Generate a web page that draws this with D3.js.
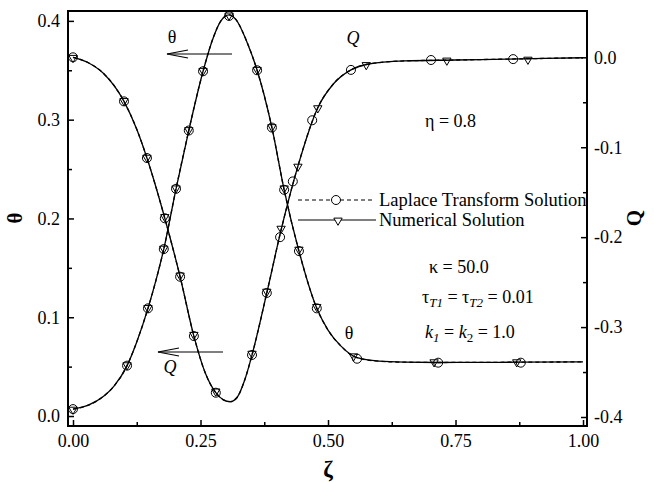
<!DOCTYPE html>
<html>
<meta charset="utf-8">
<script src="https://cdnjs.cloudflare.com/ajax/libs/d3/7.8.5/d3.min.js"></script>
<title>theta and Q</title>
<style>
body { margin: 0; background: #fff; }
text { font-family: "Liberation Serif", "Times New Roman", serif; }
</style>
<body>
<script type="text/javascript">

// curves: [zeta, value]
var thetaLine = [
    [0, 0.007], [0.03, 0.011], [0.06, 0.020], [0.08, 0.030], [0.106, 0.051],
    [0.125, 0.075], [0.147, 0.109], [0.163, 0.138], [0.178, 0.169], [0.202, 0.230],
    [0.227, 0.289], [0.255, 0.349], [0.275, 0.383], [0.29, 0.400], [0.306, 0.406],
    [0.32, 0.401], [0.34, 0.380], [0.361, 0.350], [0.390, 0.292], [0.414, 0.229],
    [0.443, 0.167], [0.478, 0.109], [0.50, 0.087], [0.525, 0.071], [0.557, 0.059],
    [0.60, 0.0555], [0.65, 0.0545], [0.716, 0.0542], [0.8, 0.0543], [0.876, 0.0545],
    [1.0, 0.0548]
];
var qLine = [
    [0, 0.000], [0.03, -0.006], [0.06, -0.018], [0.1, -0.049], [0.125, -0.080],
    [0.145, -0.112], [0.163, -0.145], [0.180, -0.179], [0.210, -0.244], [0.237, -0.310],
    [0.26, -0.352], [0.280, -0.373], [0.295, -0.381], [0.308, -0.383], [0.322, -0.378],
    [0.336, -0.360], [0.351, -0.331], [0.380, -0.262], [0.408, -0.192], [0.441, -0.121],
    [0.480, -0.056], [0.51, -0.030], [0.545, -0.014], [0.575, -0.008], [0.65, -0.004],
    [0.75, -0.003], [0.85, -0.002], [1.0, -0.0005]
];

// markers
var lapTheta = [
    [0, 0.007], [0.106, 0.051], [0.147, 0.109], [0.178, 0.169], [0.202, 0.230],
    [0.227, 0.289], [0.255, 0.349], [0.306, 0.405], [0.361, 0.350], [0.390, 0.292],
    [0.414, 0.229], [0.443, 0.167], [0.478, 0.109], [0.557, 0.058], [0.716, 0.054],
    [0.878, 0.054]
];
var numTheta = [
    [0, 0.007], [0.106, 0.052], [0.147, 0.110], [0.178, 0.170], [0.202, 0.231],
    [0.227, 0.290], [0.255, 0.350], [0.306, 0.406], [0.361, 0.351], [0.390, 0.293],
    [0.414, 0.231], [0.443, 0.169], [0.478, 0.111], [0.550, 0.061], [0.708, 0.055],
    [0.870, 0.055]
];
var lapQ = [
    [0, 0.000], [0.1, -0.049], [0.145, -0.112], [0.180, -0.179], [0.210, -0.244],
    [0.237, -0.310], [0.280, -0.373], [0.351, -0.331], [0.380, -0.262], [0.406, -0.200],
    [0.431, -0.138], [0.469, -0.070], [0.545, -0.014], [0.702, -0.003], [0.863, -0.002]
];
var numQ = [
    [0, 0.000], [0.1, -0.048], [0.145, -0.111], [0.180, -0.177], [0.210, -0.242],
    [0.237, -0.308], [0.280, -0.371], [0.351, -0.329], [0.380, -0.260], [0.408, -0.190],
    [0.441, -0.121], [0.480, -0.056], [0.575, -0.008], [0.733, -0.003], [0.892, -0.002]
];

var xTicks = [0, 0.25, 0.5, 0.75, 1.0];
var xMinor = [0.125, 0.375, 0.625, 0.875];
var thetaTicks = [0, 0.1, 0.2, 0.3, 0.4];
var thetaMinor = [0.05, 0.15, 0.25, 0.35];
var qTicks = [0, -0.1, -0.2, -0.3, -0.4];
var qTickLabels = ["0.0", "-0.1", "-0.2", "-0.3", "-0.4"];
var qMinor = [-0.05, -0.15, -0.25, -0.35];

var size = { width: 654, height: 482 };
var box = { left: 68, right: 587, top: 11, bottom: 426 };

var xScale = d3.scaleLinear().domain([-0.0098, 1.0078]).range([box.left, box.right]);
var yTheta = d3.scaleLinear().domain([-0.0101, 0.410]).range([box.bottom, box.top]);
var yQ = d3.scaleLinear().domain([-0.41, 0.0515]).range([box.bottom, box.top]);

var svg = d3.select("body").append("svg")
    .attr("width", size.width)
    .attr("height", size.height);

// axes, ticks pointing inwards
function styleAxis(g) {
    g.select(".domain").remove();
    g.selectAll("line").attr("stroke", "#000").attr("stroke-width", 1.5);
    g.selectAll("text").style("font-size", "18px").attr("fill", "#000")
        .style("font-family", '"Liberation Serif", serif');
}

svg.append("g").attr("transform", "translate(0," + box.bottom + ")")
    .call(d3.axisBottom(xScale).tickValues(xMinor).tickSize(-4).tickFormat(""))
    .call(styleAxis);
svg.append("g").attr("transform", "translate(0," + box.bottom + ")")
    .call(d3.axisBottom(xScale).tickValues(xTicks).tickSize(-6).tickPadding(8)
        .tickFormat(d3.format(".2f")))
    .call(styleAxis);

svg.append("g").attr("transform", "translate(" + box.left + ",0)")
    .call(d3.axisLeft(yTheta).tickValues(thetaMinor).tickSize(-4).tickFormat(""))
    .call(styleAxis);
svg.append("g").attr("transform", "translate(" + box.left + ",0)")
    .call(d3.axisLeft(yTheta).tickValues(thetaTicks).tickSize(-6).tickPadding(8)
        .tickFormat(d3.format(".1f")))
    .call(styleAxis);

svg.append("g").attr("transform", "translate(" + box.right + ",0)")
    .call(d3.axisRight(yQ).tickValues(qMinor).tickSize(-4).tickFormat(""))
    .call(styleAxis);
svg.append("g").attr("transform", "translate(" + box.right + ",0)")
    .call(d3.axisRight(yQ).tickValues(qTicks).tickSize(-6).tickPadding(7)
        .tickFormat(function (d, i) { return qTickLabels[i]; }))
    .call(styleAxis);

svg.append("rect")
    .attr("x", box.left).attr("y", box.top)
    .attr("width", box.right - box.left).attr("height", box.bottom - box.top)
    .attr("fill", "none").attr("stroke", "#000").attr("stroke-width", 2);

// curves
var lineTheta = d3.line().curve(d3.curveMonotoneX)
    .x(function (d) { return xScale(d[0]); })
    .y(function (d) { return yTheta(d[1]); });
var lineQ = d3.line().curve(d3.curveMonotoneX)
    .x(function (d) { return xScale(d[0]); })
    .y(function (d) { return yQ(d[1]); });

[["dash", "4,3"], ["solid", null]].forEach(function (s) {
    svg.append("path").attr("d", lineTheta(thetaLine))
        .attr("fill", "none").attr("stroke", "#000").attr("stroke-width", 1.3)
        .attr("stroke-dasharray", s[1]);
    svg.append("path").attr("d", lineQ(qLine))
        .attr("fill", "none").attr("stroke", "#000").attr("stroke-width", 1.3)
        .attr("stroke-dasharray", s[1]);
});

var tri = d3.symbol().type(d3.symbolTriangle).size(30);

function circles(data, y) {
    svg.append("g").selectAll("circle").data(data).enter().append("circle")
        .attr("cx", function (d) { return xScale(d[0]); })
        .attr("cy", function (d) { return y(d[1]); })
        .attr("r", 4.5)
        .attr("fill", "none").attr("stroke", "#000").attr("stroke-width", 1);
}
function triangles(data, y) {
    svg.append("g").selectAll("path").data(data).enter().append("path")
        .attr("d", tri)
        .attr("transform", function (d) {
            return "translate(" + xScale(d[0]) + "," + (y(d[1]) + 0.5) + ") rotate(180)";
        })
        .attr("fill", "none").attr("stroke", "#000").attr("stroke-width", 1);
}
circles(lapTheta, yTheta);
triangles(numTheta, yTheta);
circles(lapQ, yQ);
triangles(numQ, yQ);

// legend
var lg = svg.append("g");
lg.append("line").attr("x1", 298).attr("x2", 372).attr("y1", 200).attr("y2", 200)
    .attr("stroke", "#000").attr("stroke-width", 1).attr("stroke-dasharray", "4,3");
lg.append("circle").attr("cx", 336).attr("cy", 200).attr("r", 4.5)
    .attr("fill", "#fff").attr("stroke", "#000");
lg.append("line").attr("x1", 298).attr("x2", 376).attr("y1", 220).attr("y2", 220)
    .attr("stroke", "#000").attr("stroke-width", 1.2);
lg.append("path").attr("d", tri)
    .attr("transform", "translate(338,220.5) rotate(180)")
    .attr("fill", "#fff").attr("stroke", "#000");
lg.append("text").attr("x", 379).attr("y", 206).style("font-size", "18.5px")
    .text("Laplace Transform Solution");
lg.append("text").attr("x", 379).attr("y", 226).style("font-size", "18.5px")
    .text("Numerical Solution");

// arrows
function arrow(x1, x2, y) {
    var g = svg.append("g").attr("stroke", "#000").attr("stroke-width", 1.2).attr("fill", "none");
    g.append("line").attr("x1", x1).attr("x2", x2).attr("y1", y).attr("y2", y);
    g.append("path").attr("d", "M" + (x2 + 21) + "," + (y - 4) + "L" + x2 + "," + y + "L" + (x2 + 21) + "," + (y + 4));
}
arrow(232, 167, 54);
arrow(223, 158, 352);

function label(x, y, txt, opts) {
    var t = svg.append("text").attr("x", x).attr("y", y).style("font-size", "18px").text(txt);
    if (opts && opts.anchor) t.attr("text-anchor", opts.anchor);
    if (opts && opts.italic) t.style("font-style", "italic");
    return t;
}
label(172, 43, "\u03b8", { anchor: "middle" });
label(170, 373, "Q", { anchor: "middle", italic: true });
label(353, 44, "Q", { anchor: "middle", italic: true });
label(349, 339, "\u03b8", { anchor: "middle" });
label(425, 127, "\u03b7 = 0.8");
label(429, 273, "\u03ba = 50.0");

var tau = label(422, 303, "");
tau.append("tspan").text("\u03c4");
tau.append("tspan").attr("dy", 4).style("font-size", "13px").style("font-style", "italic").text("T1");
tau.append("tspan").attr("dy", -4).text(" = \u03c4");
tau.append("tspan").attr("dy", 4).style("font-size", "13px").style("font-style", "italic").text("T2");
tau.append("tspan").attr("dy", -4).text(" = 0.01");

var kk = label(425, 338, "");
kk.append("tspan").style("font-style", "italic").text("k");
kk.append("tspan").attr("dy", 4).style("font-size", "13px").style("font-style", "italic").text("1");
kk.append("tspan").attr("dy", -4).text(" = ");
kk.append("tspan").style("font-style", "italic").text("k");
kk.append("tspan").attr("dy", 4).style("font-size", "13px").text("2");
kk.append("tspan").attr("dy", -4).text(" = 1.0");

// axis titles
svg.append("text").attr("transform", "translate(22,218) rotate(-90)")
    .attr("text-anchor", "middle").style("font-size", "21px").style("font-weight", "bold")
    .text("\u03b8");
svg.append("text").attr("transform", "translate(641,218) rotate(-90)")
    .attr("text-anchor", "middle").style("font-size", "21px").style("font-weight", "bold")
    .text("Q");
svg.append("text").attr("x", 328).attr("y", 477)
    .attr("text-anchor", "middle").style("font-size", "23px").style("font-weight", "bold")
    .text("\u03b6");

</script>
</body>
</html>
